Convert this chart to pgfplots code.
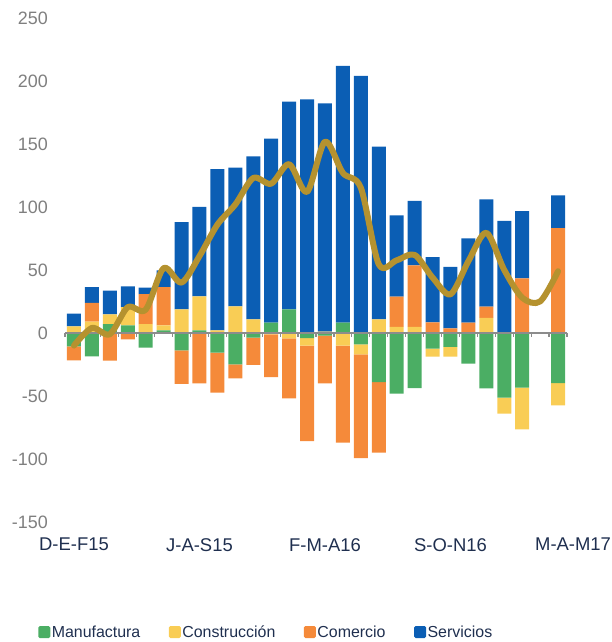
\documentclass[border=0pt]{standalone}
\usepackage{pgfplots}
\usepackage{pgfplotstable}
\pgfplotsset{compat=1.18}
\usepackage{fontspec}
\setmainfont{Liberation Sans}
\definecolor{cM}{HTML}{4BAE64}
\definecolor{cC}{HTML}{F9CD55}
\definecolor{cCo}{HTML}{F58A3A}
\definecolor{cS}{HTML}{0B5EB4}
\definecolor{cL}{HTML}{B5922F}
\definecolor{tgray}{HTML}{7F7F7F}
\definecolor{navy}{HTML}{1F2F4F}
\definecolor{zgray}{HTML}{8C8C8C}
\pgfplotstableread{
x M C Co S L
0 -10.6 5.3 -11.1 10 -10
1 -18.5 9 15 12.5 4
2 7 7.7 -22 19 -1
3 6 14.5 -5 16.4 20.5
4 -11.6 7 23.8 5.3 18.5
5 2 4 30.4 13.2 51.5
6 -13.8 18.8 -26.5 69.2 40
7 2 27 -40 71 61
8 -15.6 2 -31.7 128 86
9 -24.9 21.2 -11.1 110 102
10 -3.7 10.8 -21.7 129.4 123
11 8.2 -1 -34 146 118.5
12 18.8 -4.2 -47.6 164.8 134
13 -4 -6 -75.8 185.4 112
14 -2 1 -38 181.3 151.8
15 8.2 -10 -77 203.7 127
16 -9 -7.9 -82.5 204 115.3
17 -38.9 10.8 -56.1 137.1 54.5
18 -48.1 4.8 24 64.6 57.7
19 -43.7 4.8 48.9 51.1 62
20 -12.4 -6.3 8.5 51.8 44
21 -11.1 -7.7 3.7 48.7 30.7
22 -24.3 0 8.2 66.9 57
23 -43.9 11.9 9 85.1 79.5
24 -51.3 -12.7 0 88.9 50
25 -43.4 -33 43.4 53.4 28
26 0 0 0 0 25
27 -39.7 -17.7 83.3 26 49
}\data
\pgfplotsset{
  base/.style={
    at={(65bp,120bp)}, anchor=south west, scale only axis,
    width=502bp, height=504bp,
    xmin=-0.5, xmax=27.5, ymin=-150, ymax=250,
  },
  sq/.style={legend image code/.code={\fill[##1, draw=none, rounded corners=1.5bp] (0bp,-6bp) rectangle (12bp,6bp);}},
}
\begin{document}
\begin{tikzpicture}[x=1bp,y=1bp]
\path[use as bounding box] (0,0) rectangle (612,642);
% positive parts
\begin{axis}[base, ybar stacked, bar width=14bp,
  axis line style={draw=none}, major tick length=0, minor tick length=0,
  ytick={-150,-100,...,250},
  yticklabel style={font=\fontsize{18}{20}\selectfont, text=tgray, anchor=east, inner sep=0pt, xshift=-17bp},
  xtick={0,7,14,21,27},
  xticklabels={D-E-F15,J-A-S15,F-M-A16,S-O-N16,{\hspace*{30bp}M-A-M17}},
  xticklabel style={font=\fontsize{18.5}{20}\selectfont, text=navy, anchor=north, inner sep=0pt, yshift=-16bp},
  /pgf/number format/assume math mode=true,
  legend columns=4,
  legend style={draw=none, fill=none, at={(axis description cs:0.4004,-0.2183)}, anchor=center,
    font=\fontsize{16}{18}\selectfont, text=navy, inner sep=0pt,
    nodes={inner xsep=1.5bp},
    /tikz/every even column/.append style={column sep=27bp}},
]
\addplot[sq, fill=cM, draw=none] table[x=x, y expr={max(\thisrow{M},0)}] {\data};
\addplot[sq, fill=cC, draw=none] table[x=x, y expr={max(\thisrow{C},0)}] {\data};
\addplot[sq, fill=cCo, draw=none] table[x=x, y expr={max(\thisrow{Co},0)}] {\data};
\addplot[sq, fill=cS, draw=none] table[x=x, y expr={max(\thisrow{S},0)}] {\data};
\legend{Manufactura,Construcción,Comercio,Servicios}
\end{axis}
% negative parts
\begin{axis}[base, ybar stacked, bar width=14bp, hide axis]
\addplot[fill=cM, draw=none] table[x=x, y expr={min(\thisrow{M},0)}] {\data};
\addplot[fill=cC, draw=none] table[x=x, y expr={min(\thisrow{C},0)}] {\data};
\addplot[fill=cCo, draw=none] table[x=x, y expr={min(\thisrow{Co},0)}] {\data};
\addplot[fill=cS, draw=none] table[x=x, y expr={min(\thisrow{S},0)}] {\data};
\end{axis}
% zero line, boundary ticks and total line
\begin{axis}[base, hide axis, clip=false]
\draw[zgray, line width=1.4bp] (axis cs:-0.5,0) -- (axis cs:27.5,0);
\pgfplotsinvokeforeach{-0.5,0.5,...,27.5}{
  \draw[zgray, line width=1.2bp] (axis cs:#1,0) -- ([yshift=-4bp]axis cs:#1,0);
}
\addplot[smooth, cL, line width=6bp, line cap=round, line join=round] table[x=x, y=L] {\data};
\end{axis}
\end{tikzpicture}
\end{document}
